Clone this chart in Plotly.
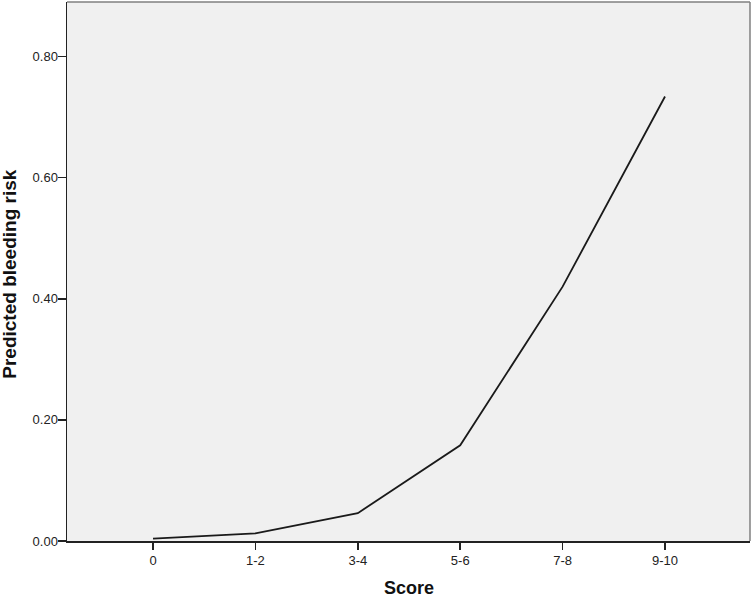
import plotly.graph_objects as go

categories = ["0", "1-2", "3-4", "5-6", "7-8", "9-10"]
risk = [0.004, 0.0125, 0.046, 0.158, 0.42, 0.734]
y_ticks = [0.0, 0.2, 0.4, 0.6, 0.8]
y_ticklabels = ["0.00", "0.20", "0.40", "0.60", "0.80"]

fig = go.Figure()
fig.add_trace(go.Scatter(
    x=list(range(len(categories))), y=risk, mode="lines",
    line=dict(color="#1a1a1a", width=1.8), showlegend=False, hoverinfo="skip"))

font_family = "Liberation Sans, Arial, sans-serif"
fig.update_layout(
    width=754, height=597,
    margin=dict(l=67, r=4, t=2, b=56),
    paper_bgcolor="white", plot_bgcolor="#f0f0f0",
    font=dict(family=font_family, size=13, color="#222222"),
    xaxis=dict(
        range=[-0.84, 5.83], tickmode="array",
        tickvals=list(range(len(categories))), ticktext=categories,
        ticks="outside", ticklen=7, tickwidth=1.5, tickcolor="#222222",
        showline=True, linecolor="#222222", linewidth=1.5,
        showgrid=False, zeroline=False, fixedrange=True),
    yaxis=dict(
        range=[0, 0.89], tickmode="array", tickvals=y_ticks, ticktext=y_ticklabels,
        ticks="outside", ticklen=8, tickwidth=1.5, tickcolor="#222222",
        ticklabelstandoff=-3,
        showline=True, linecolor="#222222", linewidth=1.5,
        showgrid=False, zeroline=False, fixedrange=True),
    shapes=[
        dict(type="line", xref="paper", yref="paper", x0=0, x1=1, y0=1, y1=1,
             line=dict(color="#808080", width=1.5)),
        dict(type="line", xref="paper", yref="paper", x0=1, x1=1, y0=0, y1=1,
             line=dict(color="#808080", width=1.5)),
    ],
    annotations=[
        dict(text="<b>Score</b>", xref="paper", yref="paper", x=0.5, y=0,
             yshift=-47, xanchor="center", yanchor="middle", showarrow=False,
             font=dict(family=font_family, size=18, color="#111111")),
        dict(text="<b>Predicted bleeding risk</b>", xref="paper", yref="paper",
             x=0, xshift=-57, y=0.494, xanchor="center", yanchor="middle",
             textangle=-90, showarrow=False,
             font=dict(family=font_family, size=19, color="#111111")),
    ],
)

fig.write_html(
    "out.html",
    config={"displayModeBar": False, "staticPlot": True},
    post_script="document.body.style.margin='0';document.body.style.overflow='hidden';",
)
